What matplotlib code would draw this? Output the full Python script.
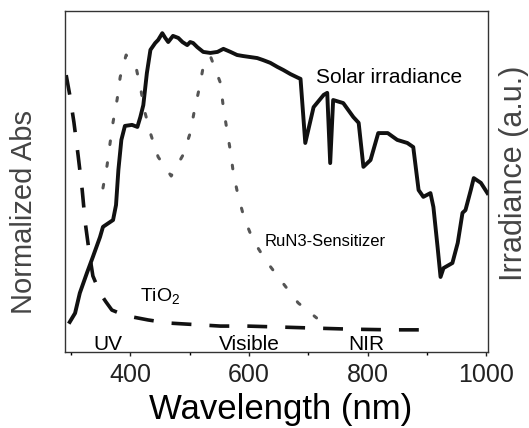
import matplotlib.pyplot as plt
from matplotlib.ticker import MultipleLocator

plt.rcParams['font.family'] = ['Liberation Sans', 'DejaVu Sans']
plt.rcParams['mathtext.fontset'] = 'custom'
plt.rcParams['mathtext.rm'] = 'Liberation Sans'

# solar irradiance (a.u.)
solar_wl = [298, 307, 315, 327, 337, 349, 354, 371, 376, 380, 385, 391, 403, 412,
            417, 422, 428, 434, 442, 447, 454, 459, 464, 472, 481, 488, 496, 501,
            506, 513, 523, 535, 547, 557, 569, 580, 590, 602, 614, 624, 636, 648,
            658, 670, 683, 687, 695, 709, 726, 732, 737, 742, 759, 776, 785, 793,
            805, 818, 834, 850, 867, 877, 886, 894, 906, 911, 918, 923, 928, 943,
            952, 960, 965, 974, 979, 991, 1002]
solar_val = [0.088, 0.114, 0.173, 0.232, 0.279, 0.337, 0.367, 0.387, 0.431, 0.534,
             0.622, 0.663, 0.666, 0.660, 0.689, 0.724, 0.818, 0.886, 0.906, 0.915,
             0.935, 0.921, 0.909, 0.927, 0.921, 0.909, 0.900, 0.909, 0.906, 0.894,
             0.880, 0.877, 0.880, 0.889, 0.880, 0.871, 0.868, 0.865, 0.862, 0.856,
             0.848, 0.836, 0.827, 0.815, 0.804, 0.801, 0.613, 0.718, 0.754, 0.760,
             0.554, 0.739, 0.730, 0.689, 0.672, 0.543, 0.563, 0.642, 0.642, 0.622,
             0.613, 0.601, 0.475, 0.455, 0.466, 0.425, 0.308, 0.220, 0.246, 0.261,
             0.320, 0.408, 0.416, 0.475, 0.510, 0.496, 0.466]

# RuN3 sensitizer absorbance (normalized)
run3_wl = [354, 361, 366, 371, 378, 383, 393, 410, 418, 425, 435, 447, 469, 489,
           501, 508, 516, 523, 535, 552, 557, 563, 569, 574, 582, 592, 607, 629,
           656, 683, 714]
run3_val = [0.481, 0.548, 0.613, 0.674, 0.742, 0.806, 0.871, 0.833, 0.768, 0.701,
            0.636, 0.572, 0.516, 0.578, 0.642, 0.707, 0.771, 0.836, 0.868, 0.789,
            0.716, 0.651, 0.587, 0.522, 0.457, 0.393, 0.328, 0.267, 0.205, 0.144,
            0.100]

# TiO2 absorbance (normalized)
tio2_wl = [292, 298, 305, 312, 319, 324, 331, 337, 349, 359, 369, 386, 403, 430,
           464, 493, 523, 552, 597, 656, 712, 771, 839, 894]
tio2_val = [0.812, 0.754, 0.674, 0.578, 0.475, 0.381, 0.290, 0.223, 0.173, 0.147,
            0.123, 0.111, 0.103, 0.094, 0.085, 0.082, 0.079, 0.076, 0.076, 0.073,
            0.070, 0.067, 0.065, 0.065]

fig = plt.figure(figsize=(5.29, 4.28), dpi=100)
ax = fig.add_axes([65/529, 76/428, 423/529, 341/428])

ax.plot(solar_wl, solar_val, color='#111111', lw=2.8, solid_joinstyle='round')
ax.plot(run3_wl, run3_val, color='#555555', lw=2.2, linestyle=(0, (1.2, 6)),
        dash_capstyle='round')
ax.plot(tio2_wl, tio2_val, color='#111111', lw=2.6, linestyle=(0, (5.5, 5)))

ax.set_xlim(290, 1003)
ax.set_ylim(0, 1)
ax.xaxis.set_major_locator(MultipleLocator(200))
ax.xaxis.set_minor_locator(MultipleLocator(100))
ax.set_yticks([])
ax.tick_params(axis='x', which='major', direction='out', length=3, width=1,
               labelsize=18, pad=5, colors='#222222')
ax.tick_params(axis='x', which='minor', direction='out', length=2, width=1)
for s in ax.spines.values():
    s.set_color('#333333')
    s.set_linewidth(1)

ax.text(837, 0.806, 'Solar irradiance', fontsize=15, ha='center', va='center')
ax.text(626, 0.323, 'RuN3-Sensitizer', fontsize=12, ha='left', va='center')
ax.text(417, 0.147, r'TiO$_\mathregular{2}$', fontsize=14, ha='left', va='baseline')
ax.text(363, 0.006, 'UV', fontsize=15, ha='center', va='baseline')
ax.text(600, 0.006, 'Visible', fontsize=15, ha='center', va='baseline')
ax.text(798, 0.006, 'NIR', fontsize=15, ha='center', va='baseline')

fig.text(281/529, 1 - 419/428, 'Wavelength (nm)', fontsize=25, ha='center',
         va='baseline')
fig.text(10/529, 1 - 212/428, 'Normalized Abs', fontsize=21, rotation=90,
         ha='left', va='center', color='#444444')
fig.text(1.0, 1 - 173/428, 'Irradiance (a.u.)', fontsize=22, rotation=90,
         ha='right', va='center', color='#444444')

plt.savefig('out.png', dpi=100)
